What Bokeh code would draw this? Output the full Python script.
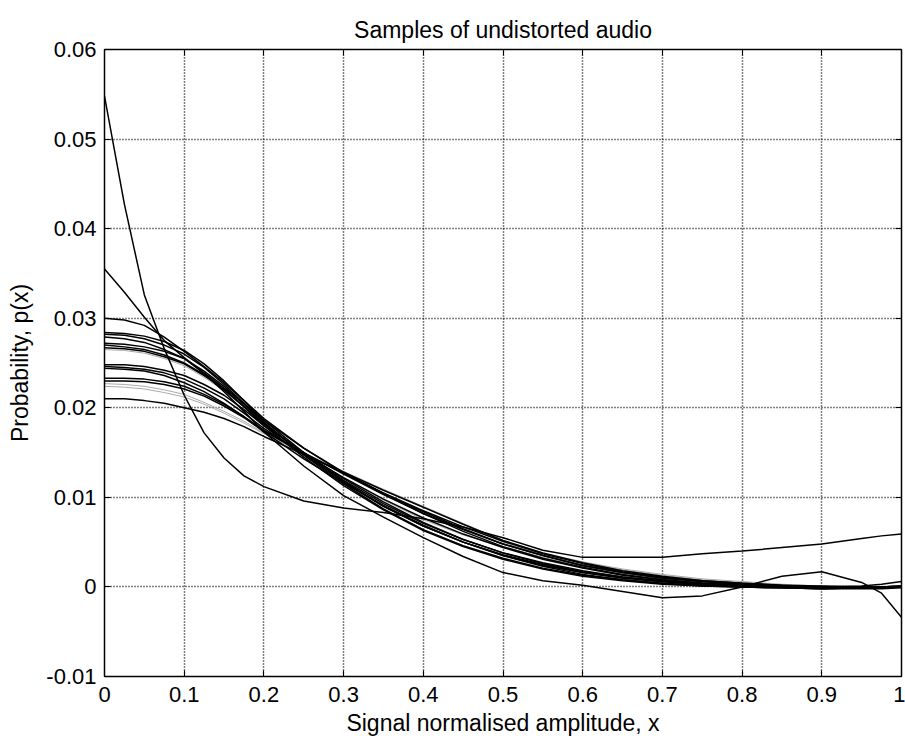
from bokeh.plotting import figure
from bokeh.models import Range1d, FixedTicker, CustomJSTickFormatter, LinearAxis
from bokeh.embed import file_html
from bokeh.resources import INLINE

# ---------------- data ----------------
x_vals = [0.0, 0.025, 0.05, 0.075, 0.1, 0.125, 0.15, 0.175, 0.2, 0.25, 0.3, 0.35, 0.4, 0.45, 0.5,
          0.55, 0.6, 0.65, 0.7, 0.75, 0.8, 0.85, 0.9, 0.95, 0.975, 1.0]

x_ticks = [0, 0.1, 0.2, 0.3, 0.4, 0.5, 0.6, 0.7, 0.8, 0.9, 1]
y_ticks = [-0.01, 0, 0.01, 0.02, 0.03, 0.04, 0.05, 0.06]

curve_a = [0.0548, 0.0427, 0.0326, 0.0266, 0.0214, 0.0172, 0.0144, 0.0124, 0.0112, 0.0096, 0.0088,
           0.0083, 0.0076, 0.0067, 0.0055, 0.0041, 0.0033, 0.0033, 0.0033, 0.0037, 0.0040, 0.0044,
           0.0048, 0.0054, 0.0057, 0.0059]
curve_b = [0.0355, 0.0329, 0.0301, 0.0275, 0.0256, 0.0239, 0.0222, 0.0205, 0.0186, 0.0155, 0.0128,
           0.0104, 0.0082, 0.0062, 0.0045, 0.0032, 0.0022, 0.0014, 0.0008, 0.0004, 0.0001, 0.0000,
           -0.0001, -0.0001, -0.0001, 0.0000]
curve_c = [0.0300, 0.0298, 0.0292, 0.0279, 0.0263, 0.0246, 0.0228, 0.0208, 0.0188, 0.0155, 0.0127,
           0.0104, 0.0084, 0.0065, 0.0048, 0.0035, 0.0024, 0.0016, 0.0010, 0.0006, 0.0003, 0.0001,
           0.0000, 0.0000, 0.0000, 0.0001]
curve_h1 = [0.0284, 0.0283, 0.0280, 0.0274, 0.0264, 0.0249, 0.0230, 0.0208, 0.0186, 0.0150, 0.0118,
            0.0090, 0.0068, 0.0050, 0.0035, 0.0024, 0.0016, 0.0010, 0.0006, 0.0003, 0.0001, 0.0000,
            -0.0001, -0.0001, -0.0001, 0.0000]
curve_h2 = [0.0282, 0.0281, 0.0277, 0.0270, 0.0260, 0.0245, 0.0226, 0.0205, 0.0184, 0.0147, 0.0115,
            0.0087, 0.0064, 0.0046, 0.0032, 0.0021, 0.0013, 0.0008, 0.0004, 0.0002, 0.0000, -0.0001,
            -0.0002, -0.0001, -0.0001, 0.0000]
curve_d = [0.0279, 0.0277, 0.0273, 0.0265, 0.0255, 0.0238, 0.0218, 0.0196, 0.0173, 0.0135, 0.0102,
           0.0078, 0.0055, 0.0034, 0.0016, 0.0007, 0.0002, -0.0005, -0.0012, -0.0010, 0.0000, 0.0012,
           0.0017, 0.0005, -0.0007, -0.0034]
curve_m1 = [0.0272, 0.0271, 0.0268, 0.0263, 0.0255, 0.0241, 0.0224, 0.0204, 0.0183, 0.0148, 0.0117,
            0.0090, 0.0068, 0.0050, 0.0036, 0.0025, 0.0016, 0.0010, 0.0006, 0.0003, 0.0001, 0.0000,
            -0.0001, 0.0000, 0.0000, 0.0001]
curve_m2 = [0.0270, 0.0268, 0.0265, 0.0259, 0.0250, 0.0237, 0.0220, 0.0201, 0.0180, 0.0145, 0.0113,
            0.0086, 0.0063, 0.0045, 0.0031, 0.0020, 0.0012, 0.0007, 0.0003, 0.0001, 0.0000, -0.0001,
            -0.0002, -0.0002, -0.0002, -0.0001]
curve_m3 = [0.0267, 0.0266, 0.0263, 0.0257, 0.0249, 0.0236, 0.0221, 0.0202, 0.0182, 0.0149, 0.0119,
            0.0093, 0.0071, 0.0053, 0.0038, 0.0027, 0.0018, 0.0011, 0.0007, 0.0004, 0.0002, 0.0001,
            0.0000, 0.0000, 0.0000, 0.0000]
curve_l1 = [0.0248, 0.0248, 0.0246, 0.0242, 0.0236, 0.0226, 0.0214, 0.0198, 0.0180, 0.0150, 0.0121,
            0.0095, 0.0072, 0.0053, 0.0038, 0.0026, 0.0017, 0.0011, 0.0006, 0.0003, 0.0001, 0.0000,
            -0.0001, 0.0000, 0.0000, 0.0000]
curve_l2 = [0.0246, 0.0245, 0.0243, 0.0239, 0.0232, 0.0222, 0.0210, 0.0194, 0.0177, 0.0148, 0.0122,
            0.0098, 0.0077, 0.0059, 0.0044, 0.0031, 0.0021, 0.0013, 0.0008, 0.0004, 0.0002, 0.0000,
            -0.0001, -0.0001, -0.0001, 0.0000]
curve_l3 = [0.0244, 0.0243, 0.0241, 0.0236, 0.0228, 0.0218, 0.0205, 0.0190, 0.0173, 0.0143, 0.0116,
            0.0091, 0.0069, 0.0050, 0.0035, 0.0023, 0.0014, 0.0008, 0.0004, 0.0001, 0.0000, -0.0001,
            -0.0002, -0.0001, -0.0001, 0.0000]
curve_n1 = [0.0233, 0.0233, 0.0232, 0.0229, 0.0224, 0.0215, 0.0204, 0.0190, 0.0175, 0.0150, 0.0126,
            0.0103, 0.0082, 0.0064, 0.0048, 0.0035, 0.0024, 0.0016, 0.0010, 0.0006, 0.0003, 0.0001,
            0.0000, 0.0000, 0.0000, 0.0001]
curve_n2 = [0.0230, 0.0230, 0.0229, 0.0226, 0.0221, 0.0213, 0.0202, 0.0189, 0.0174, 0.0149, 0.0127,
            0.0105, 0.0085, 0.0067, 0.0051, 0.0037, 0.0026, 0.0017, 0.0011, 0.0007, 0.0004, 0.0002,
            0.0001, 0.0000, 0.0000, 0.0000]
curve_low = [0.0210, 0.0210, 0.0208, 0.0205, 0.0200, 0.0195, 0.0188, 0.0179, 0.0168, 0.0148, 0.0128,
             0.0108, 0.0089, 0.0070, 0.0052, 0.0038, 0.0027, 0.0018, 0.0012, 0.0007, 0.0004, 0.0002,
             0.0000, 0.0001, 0.0003, 0.0006]
curve_g1 = [0.0265, 0.0264, 0.0261, 0.0255, 0.0247, 0.0234, 0.0219, 0.0201, 0.0181, 0.0150, 0.0122,
            0.0097, 0.0075, 0.0058, 0.0045, 0.0033, 0.0023, 0.0015, 0.0009, 0.0005, 0.0002, 0.0001,
            0.0000, 0.0000, 0.0000, 0.0000]
curve_g2 = [0.0227, 0.0226, 0.0224, 0.0220, 0.0215, 0.0206, 0.0196, 0.0185, 0.0172, 0.0150, 0.0129,
            0.0109, 0.0090, 0.0071, 0.0052, 0.0038, 0.0028, 0.0020, 0.0014, 0.0009, 0.0006, 0.0003,
            0.0001, 0.0000, 0.0000, 0.0000]
curve_g3 = [0.0224, 0.0223, 0.0221, 0.0217, 0.0212, 0.0204, 0.0194, 0.0183, 0.0171, 0.0149, 0.0128,
            0.0108, 0.0089, 0.0070, 0.0050, 0.0036, 0.0027, 0.0019, 0.0013, 0.0008, 0.0005, 0.0002,
            0.0001, 0.0000, 0.0000, 0.0000]

gray_curves = [curve_g1, curve_g2, curve_g3]
black_curves = [curve_a, curve_b, curve_c, curve_h1, curve_h2, curve_d, curve_m1, curve_m2,
                curve_m3, curve_l1, curve_l2, curve_l3, curve_n1, curve_n2, curve_low]

FONT = "Liberation Sans"

p = figure(width=905, height=744, output_backend="svg", toolbar_location=None,
           x_range=Range1d(0, 1), y_range=Range1d(-0.01, 0.06),
           min_border_left=104, min_border_right=4, min_border_top=49, min_border_bottom=68,
           title="Samples of undistorted audio")
p.background_fill_color = "white"
p.border_fill_color = "white"
p.outline_line_color = "black"
p.outline_line_width = 1

p.title.align = "center"
p.title.text_font = FONT
p.title.text_font_size = "23px"
p.title.text_font_style = "normal"
p.title.text_color = "black"
p.title.standoff = 14

p.xgrid.ticker = FixedTicker(ticks=x_ticks)
p.ygrid.ticker = FixedTicker(ticks=y_ticks)
for g in (p.xgrid, p.ygrid):
    g.grid_line_color = "black"
    g.grid_line_dash = "1 2"
    g.grid_line_width = 1.5
    g.grid_line_alpha = 1.0

for ys in gray_curves:
    p.line(x_vals, ys, line_color="#aaaaaa", line_width=1)
for ys in black_curves:
    p.line(x_vals, ys, line_color="black", line_width=1.5)

fmt = CustomJSTickFormatter(code="return String(Number(tick.toFixed(2)));")
blank = CustomJSTickFormatter(code="return '';")

xa = p.xaxis[0]
ya = p.yaxis[0]
xa.ticker = FixedTicker(ticks=x_ticks)
ya.ticker = FixedTicker(ticks=y_ticks)
xa.formatter = fmt
ya.formatter = fmt
xa.axis_label = "Signal normalised amplitude, x"
ya.axis_label = "Probability, p(x)"
for ax in (xa, ya):
    ax.major_tick_in = 6
    ax.major_tick_out = 0
    ax.minor_tick_in = 0
    ax.minor_tick_out = 0
    ax.axis_line_color = "black"
    ax.axis_line_width = 1.5
    ax.major_tick_line_color = "black"
    ax.major_label_text_font = FONT
    ax.major_label_text_font_size = "22px"
    ax.major_label_text_color = "black"
    ax.axis_label_text_font = FONT
    ax.axis_label_text_font_size = "23px"
    ax.axis_label_text_font_style = "normal"
    ax.axis_label_text_color = "black"
xa.major_label_standoff = 10
xa.axis_label_standoff = 5
ya.major_label_standoff = 8
ya.axis_label_standoff = 10

top_ax = LinearAxis(ticker=FixedTicker(ticks=x_ticks), formatter=blank)
right_ax = LinearAxis(ticker=FixedTicker(ticks=y_ticks), formatter=blank)
for ax in (top_ax, right_ax):
    ax.major_tick_in = 6
    ax.major_tick_out = 0
    ax.minor_tick_in = 0
    ax.minor_tick_out = 0
    ax.major_label_standoff = 0
    ax.axis_line_color = "black"
    ax.axis_line_width = 1.5
    ax.major_tick_line_color = "black"
p.add_layout(top_ax, "above")
p.add_layout(right_ax, "right")

open("out.html", "w").write(file_html(p, INLINE))
